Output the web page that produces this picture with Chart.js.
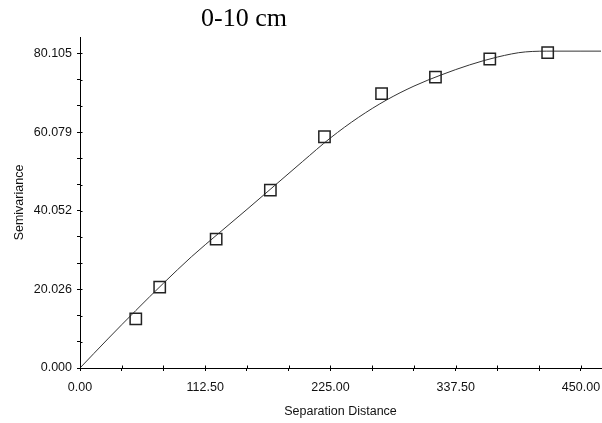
<!DOCTYPE html>
<html>
<head>
<meta charset="utf-8">
<script src="https://cdn.jsdelivr.net/npm/chart.js@4.4.1/dist/chart.umd.min.js"></script>
<style>
  html, body { margin: 0; padding: 0; background: #fff; }
  #wrap { position: relative; width: 602px; height: 423px; }
  #title { position: absolute; left: 144px; width: 200px; top: 5px; text-align: center;
           font-family: "Liberation Serif", "Times New Roman", serif; font-size: 26px; line-height: 26px; color: #000; }
  canvas { position: absolute; left: 0; top: 0; }
</style>
</head>
<body>
<div id="wrap">
  <canvas id="c" width="602" height="423"></canvas>
  <div id="title">0-10 cm</div>
</div>
<script>
// Observed experimental semivariogram points
const sepDistance  = [50.1, 71.6, 122.3, 171.0, 219.6, 270.9, 319.3, 368.1, 420.1];
const semivariance = [12.5, 20.6, 32.8, 45.3, 58.9, 69.9, 74.1, 78.7, 80.3];

// Fitted model curve
const modelDistance     = [0, 25, 50, 75, 100, 125, 150, 175, 200, 225, 250, 275, 300, 325, 350, 375, 400, 425, 450, 468];
const modelSemivariance = [0, 7.4, 14.6, 21.6, 28.3, 34.4, 40.4, 46.5, 52.6, 58.6, 63.8, 68.2, 71.8, 74.7, 77.2, 79.2, 80.5, 80.7, 80.7, 80.7];

// Axis tick labels
const xTickLabels = ['0.00', '112.50', '225.00', '337.50', '450.00'];
const yTickLabels = ['0.000', '20.026', '40.052', '60.079', '80.105'];
const xAxisMax = 468;
const yAxisMax = 84.3;

function withMinor(labels) {
  const majors = labels.map(parseFloat);
  const out = [];
  for (let i = 0; i < majors.length; i++) {
    out.push({ value: majors[i], label: labels[i], mark: true });
    if (i < majors.length - 1) {
      const step = (majors[i + 1] - majors[i]) / 3;
      out.push({ value: majors[i] + step, label: '', mark: true });
      out.push({ value: majors[i] + 2 * step, label: '', mark: true });
    }
  }
  return out;
}
// an unmarked, unlabeled end tick keeps the axis running to the edge
const xTicks = withMinor(xTickLabels).concat([{ value: xAxisMax, label: '', mark: false }]);
const yTicks = withMinor(yTickLabels);

const FONT = { family: '"Liberation Sans", Arial, sans-serif', size: 12.5 };
const INK = '#111';

const crossTicks = {
  id: 'crossTicks',
  afterDraw(chart) {
    const ctx = chart.ctx, a = chart.chartArea;
    ctx.save();
    ctx.strokeStyle = '#000';
    ctx.lineWidth = 1;
    ctx.beginPath();
    chart.scales.x.ticks.forEach((t, i) => {
      if (!xTicks[i] || !xTicks[i].mark) return;
      const px = Math.round(chart.scales.x.getPixelForValue(t.value)) + 0.5;
      ctx.moveTo(px, a.bottom - 2.5); ctx.lineTo(px, a.bottom);
    });
    chart.scales.y.ticks.forEach(t => {
      const py = Math.round(chart.scales.y.getPixelForValue(t.value)) + 0.5;
      ctx.moveTo(a.left, py); ctx.lineTo(a.left + 2.5, py);
    });
    ctx.stroke();
    ctx.restore();
  }
};

new Chart(document.getElementById('c'), {
  type: 'scatter',
  data: {
    datasets: [
      {
        label: 'Model',
        type: 'line',
        data: modelDistance.map((d, i) => ({ x: d, y: modelSemivariance[i] })),
        borderColor: '#333',
        borderWidth: 1,
        pointRadius: 0,
        fill: false,
        cubicInterpolationMode: 'monotone',
        order: 2
      },
      {
        label: 'Semivariance',
        data: sepDistance.map((d, i) => ({ x: d, y: semivariance[i] })),
        pointStyle: 'rect',
        pointRadius: 8,
        pointBorderColor: '#222',
        pointBackgroundColor: 'rgba(255,255,255,0)',
        pointBorderWidth: 1.5,
        showLine: false,
        order: 1
      }
    ]
  },
  options: {
    responsive: false,
    animation: false,
    events: [],
    layout: { autoPadding: false, padding: { left: 0, right: 1, top: 37, bottom: 0 } },
    plugins: { legend: { display: false }, tooltip: { enabled: false }, title: { display: false } },
    scales: {
      x: {
        type: 'linear',
        min: 0, max: xAxisMax,
        afterBuildTicks: s => { s.ticks = xTicks.map(t => ({ value: t.value })); },
        afterFit: s => { s.height = 55; s.paddingLeft = 0; s.paddingRight = 0; },
        ticks: {
          autoSkip: false, maxRotation: 0, padding: 9, color: INK, font: FONT,
          callback: (v, i) => xTicks[i] ? xTicks[i].label : ''
        },
        grid: {
          drawOnChartArea: false, drawTicks: true, tickLength: 3, tickWidth: 1,
          color: c => (c.index !== undefined && xTicks[c.index] && !xTicks[c.index].mark) ? 'rgba(0,0,0,0)' : '#000'
        },
        border: { display: true, color: '#000', width: 1 },
        title: { display: true, text: 'Separation Distance', color: INK, font: FONT, padding: { top: 0, bottom: 3.5 } }
      },
      y: {
        type: 'linear',
        min: 0, max: yAxisMax,
        afterBuildTicks: s => { s.ticks = yTicks.map(t => ({ value: t.value })); },
        afterFit: s => { s.width = 80; s.paddingTop = 0; s.paddingBottom = 0; },
        ticks: {
          autoSkip: false, padding: 5, color: INK, font: FONT,
          callback: (v, i) => yTicks[i] ? yTicks[i].label : ''
        },
        grid: { drawOnChartArea: false, drawTicks: true, tickLength: 3, color: '#000', tickWidth: 1 },
        border: { display: true, color: '#000', width: 1 },
        title: { display: true, text: 'Semivariance', color: INK, font: FONT, padding: { top: 12, bottom: 0 } }
      }
    }
  },
  plugins: [crossTicks]
});
</script>
</body>
</html>
